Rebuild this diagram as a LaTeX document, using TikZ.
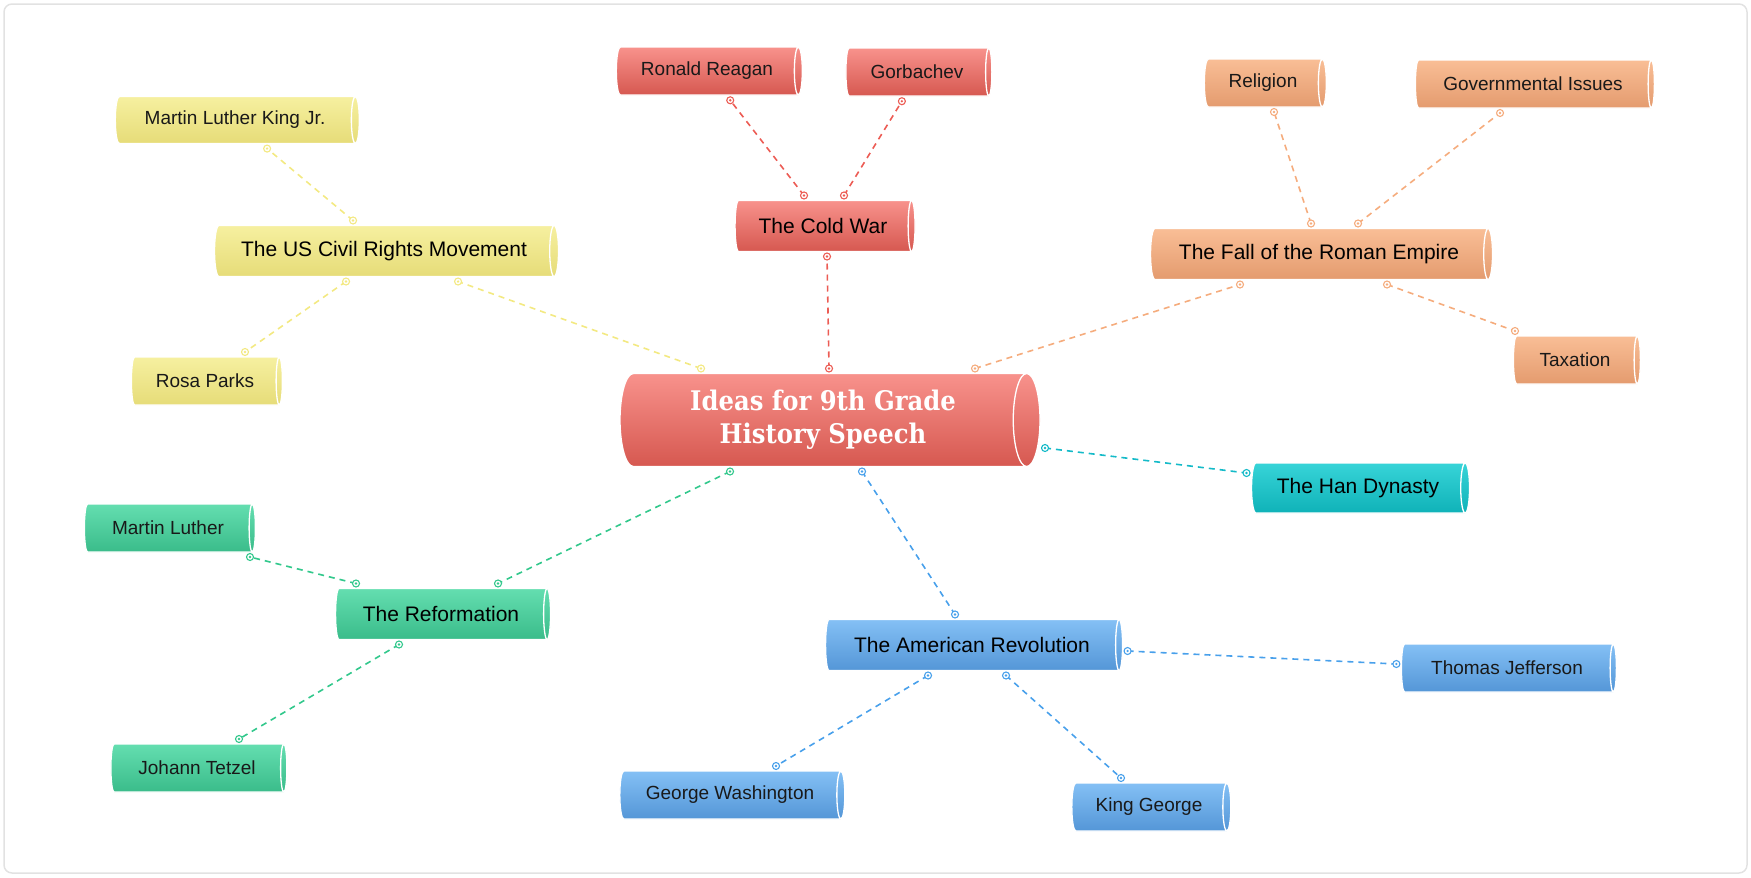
\documentclass[tikz,border=0pt]{standalone}
\usepackage{fontspec}
\setmainfont{Liberation Sans}
\newfontfamily\titlefont{DejaVu Serif Condensed}
\usetikzlibrary{shapes.geometric,decorations.markings}

\definecolor{redtop}{RGB}{248,146,140}
\definecolor{redbot}{RGB}{214,88,80}
\definecolor{yeltop}{RGB}{246,240,160}
\definecolor{yelbot}{RGB}{230,220,120}
\definecolor{orgtop}{RGB}{249,190,150}
\definecolor{orgbot}{RGB}{228,155,110}
\definecolor{teatop}{RGB}{55,212,216}
\definecolor{teabot}{RGB}{15,178,184}
\definecolor{grntop}{RGB}{100,222,176}
\definecolor{grnbot}{RGB}{58,188,138}
\definecolor{blutop}{RGB}{132,192,245}
\definecolor{blubot}{RGB}{84,150,215}
\definecolor{linkred}{RGB}{236,92,84}
\definecolor{linkyel}{RGB}{243,233,130}
\definecolor{linkorg}{RGB}{245,172,125}
\definecolor{linktea}{RGB}{20,186,200}
\definecolor{linkgrn}{RGB}{50,200,140}
\definecolor{linkblu}{RGB}{72,160,235}
\definecolor{framegray}{RGB}{226,226,226}

\begin{document}
\begin{tikzpicture}[
    x=1pt, y=-1pt,
    % cylinder: height runs along the axis, width is the diameter
    idea/.style={
        cylinder,
        aspect=0.45,
        draw=white,
        line width=1.3pt,
        outer sep=5pt,
        inner xsep=6pt,
        inner ysep=0pt,
        text=black!90,
        font=\fontsize{19}{22}\selectfont,
        minimum width=48pt
    },
    topic/.style={idea, text=black, font=\fontsize{21}{24}\selectfont, minimum width=51pt},
    redfill/.style={top color=redtop, bottom color=redbot},
    yelfill/.style={top color=yeltop, bottom color=yelbot},
    orgfill/.style={top color=orgtop, bottom color=orgbot},
    teafill/.style={top color=teatop, bottom color=teabot},
    grnfill/.style={top color=grntop, bottom color=grnbot},
    blufill/.style={top color=blutop, bottom color=blubot},
    dotend/.style={
        circle, solid, draw=#1, fill=white, line width=1.1pt,
        minimum size=7pt, inner sep=0pt, outer sep=0pt,
        path picture={\fill[#1] (path picture bounding box.center) circle (1.3pt);}
    },
    link/.style={
        draw=#1, line width=1.6pt, dash pattern=on 6pt off 5pt,
        postaction={decorate, decoration={markings,
            mark=at position 0 with {\node[dotend=#1] {};},
            mark=at position 1 with {\node[dotend=#1] {};}}}
    }
]

\useasboundingbox (0,0) rectangle (1751,878);
\draw[framegray, line width=1.5pt, rounded corners=8pt] (4,4) rectangle (1747,873);

% Central topic
\node[idea, redfill, minimum height=420pt, minimum width=93pt, text=white,
      font=\titlefont\bfseries\fontsize{27}{33}\selectfont, align=center]
    (central) at (823,420) {Ideas for 9th Grade\\History Speech};

% Topics
\node[topic, yelfill, minimum height=344pt] (civil) at (384,251) {The US Civil Rights Movement};
\node[topic, redfill, minimum height=180pt] (coldwar) at (823,226) {The Cold War};
\node[topic, orgfill, minimum height=342pt] (roman) at (1319,254) {The Fall of the Roman Empire};
\node[topic, teafill, minimum height=218pt, minimum width=50pt] (han) at (1358,488) {The Han Dynasty};
\node[topic, grnfill, minimum height=215pt] (reform) at (441,614) {The Reformation};
\node[topic, blufill, minimum height=297pt] (amrev) at (972,645) {The American Revolution};

% Subtopics
\node[idea, yelfill, minimum height=244pt, minimum width=47pt] (mlk) at (235,120) {Martin Luther King Jr.};
\node[idea, yelfill, minimum height=151pt] (rosa) at (205,381) {Rosa Parks};
\node[idea, redfill, minimum height=186pt] (reagan) at (707,71) {Ronald Reagan};
\node[idea, redfill, minimum height=146pt] (gorbachev) at (917,72) {Gorbachev};
\node[idea, orgfill, minimum height=122pt] (religion) at (1263,83) {Religion};
\node[idea, orgfill, minimum height=239pt] (govern) at (1533,84) {Governmental Issues};
\node[idea, orgfill, minimum height=127pt] (taxation) at (1575,360) {Taxation};
\node[idea, grnfill, minimum height=171pt] (luther) at (168,528) {Martin Luther};
\node[idea, grnfill, minimum height=176pt] (tetzel) at (197,768) {Johann Tetzel};
\node[idea, blufill, minimum height=215pt] (jefferson) at (1507,668) {Thomas Jefferson};
\node[idea, blufill, minimum height=225pt] (washington) at (730,795) {George Washington};
\node[idea, blufill, minimum height=159pt] (kinggeorge) at (1149,807) {King George};

% Central links
\draw[link=linkyel] ([xshift=-122pt]central.north) -- ([xshift=74pt]civil.south);
\draw[link=linkred] ([xshift=6pt]central.north) -- ([xshift=4pt]coldwar.south);
\draw[link=linkorg] ([xshift=152pt]central.north) -- ([xshift=-79pt]roman.south);
\draw[link=linktea] ([yshift=-28pt]central.east) -- ([yshift=15pt]han.west);
\draw[link=linkgrn] ([xshift=-93pt]central.south) -- ([xshift=57pt]reform.north);
\draw[link=linkblu] ([xshift=39pt]central.south) -- ([xshift=-17pt]amrev.north);

% Topic links
\draw[link=linkyel] ([xshift=-31pt]civil.north) -- ([xshift=32pt]mlk.south);
\draw[link=linkyel] ([xshift=-38pt]civil.south) -- ([xshift=40pt]rosa.north);

\draw[link=linkred] ([xshift=-19pt]coldwar.north) -- ([xshift=23pt]reagan.south);
\draw[link=linkred] ([xshift=21pt]coldwar.north) -- ([xshift=-15pt]gorbachev.south);

\draw[link=linkorg] ([xshift=-8pt]roman.north) -- ([xshift=11pt]religion.south);
\draw[link=linkorg] ([xshift=39pt]roman.north) -- ([xshift=-33pt]govern.south);
\draw[link=linkorg] ([xshift=68pt]roman.south) -- ([xshift=-60pt]taxation.north);

\draw[link=linkgrn] ([xshift=-85pt]reform.north) -- ([xshift=82pt]luther.south);
\draw[link=linkgrn] ([xshift=-42pt]reform.south) -- ([xshift=42pt]tetzel.north);

\draw[link=linkblu] ([yshift=-6pt]amrev.east) -- ([yshift=4pt]jefferson.west);
\draw[link=linkblu] ([xshift=-44pt]amrev.south) -- ([xshift=46pt]washington.north);
\draw[link=linkblu] ([xshift=34pt]amrev.south) -- ([xshift=-28pt]kinggeorge.north);

\end{tikzpicture}
\end{document}
